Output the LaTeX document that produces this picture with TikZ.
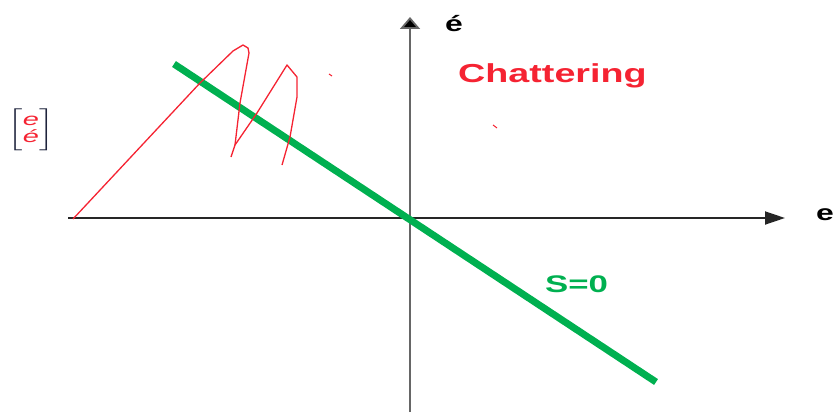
\documentclass[tikz,border=0pt]{standalone}
\usepackage{fontspec}
\setmainfont{Liberation Sans}
\usepackage{amsmath}
\usetikzlibrary{arrows.meta}

\definecolor{slidegreen}{RGB}{0,176,80}
\definecolor{chatred}{RGB}{245,35,50}
\definecolor{bracketnavy}{RGB}{30,35,60}
\newcommand{\wide}[1]{\scalebox{1.45}[1]{#1}}

\begin{document}
\begin{tikzpicture}[
  x=1pt, y=-1pt,
  axis/.style={line width=1.8pt, black!85},
  surface/.style={line width=7pt, slidegreen},
  traj/.style={line width=1.3pt, chatred, line join=round},
  lbl/.style={inner sep=0pt, font=\bfseries},
]
\useasboundingbox (0,0) rectangle (834,412);

% axes
\coordinate (org) at (410,218);
\coordinate (xlo) at (68,218);
\coordinate (xhi) at (785,218);
\coordinate (ylo) at (410,412);
\coordinate (yhi) at (410,17);
\draw[axis, -{Triangle[length=20pt, width=13pt]}] (xlo) -- (xhi);
\draw[axis, black!60, -{Triangle[length=12pt, width=20pt, fill=black]}] (ylo) -- (yhi);

\node[lbl, anchor=base west] (elab) at (816,220) {\fontsize{22}{26}\selectfont\wide{e}};
\node[lbl, anchor=base west] (edotlab) at (445,32) {\fontsize{22}{26}\selectfont\wide{é}};

% sliding surface
\coordinate (sa) at (174,64);
\coordinate (sb) at (656,382);
\draw[surface] (sa) -- (sb);
\node[lbl, anchor=base west, text=slidegreen] (slab) at (545,292) {\fontsize{24}{28}\selectfont\wide{S=0}};

% trajectory
\draw[traj] (73,219) -- (200,83) -- (233,51) -- (243,45) -- (248,48) -- (249,53)
  -- (240,103) -- (235,145) -- (231,157);
\draw[traj] (235,145) -- (257,113) -- (287,65) -- (297,77) -- (297,97)
  -- (290,137) -- (282,165);
\draw[traj, line width=1pt] (329,74) -- (332,76);
\draw[traj, line width=1pt] (493,125) -- (497,128);
\node[lbl, anchor=base west, text=chatred] (chat) at (458,82) {\fontsize{26}{30}\selectfont\wide{Chattering}};

% state vector
\node[inner sep=0pt, text=bracketnavy] (state) at (31,130) {\scalebox{2.9}[1.75]{%
  $\left[\begin{matrix}\mbox{\color{chatred}\itshape e}\\[-2pt] \mbox{\color{chatred}\itshape é}\end{matrix}\right]$}};
\end{tikzpicture}
\end{document}
